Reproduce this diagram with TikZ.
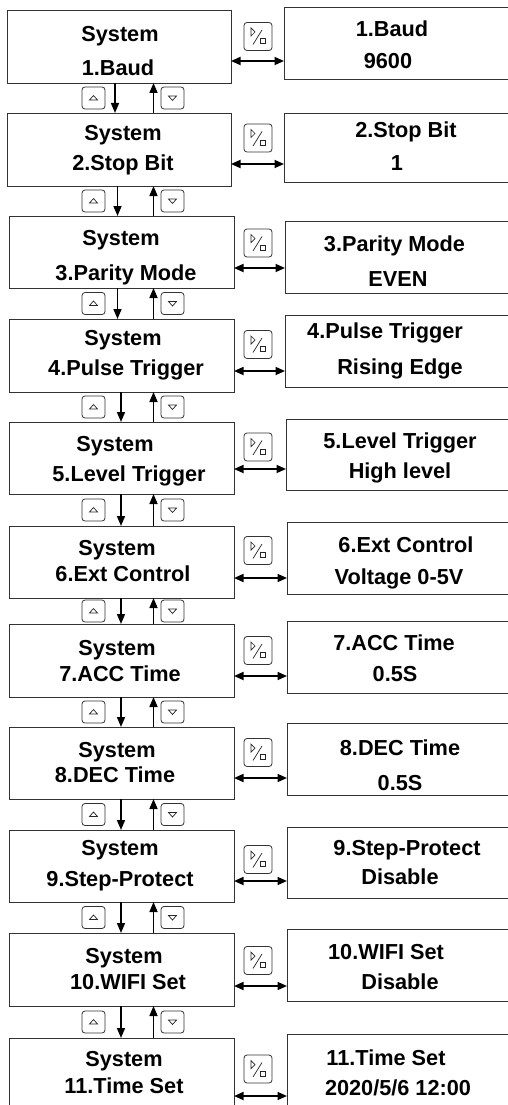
\documentclass[tikz,border=0pt]{standalone}
\usepackage{fontspec}
\setmainfont{Liberation Sans}
\usetikzlibrary{arrows.meta}
\begin{document}
\begin{tikzpicture}[x=1pt,y=-1pt,
  lbox/.style={draw=black!80, line width=0.9pt, anchor=north west, inner sep=0pt, outer sep=0pt},
  rbox/.style={draw=black!80, line width=0.9pt, anchor=north west, inner sep=0pt, outer sep=0pt, minimum width=300},
  txt/.style={anchor=base, inner sep=0pt, font=\fontsize{21.7}{24}\selectfont\bfseries},
  varr/.style={line width=1.6pt, -{Triangle[length=10pt,width=8pt]}},
  dbl/.style={line width=1.7pt, {Triangle[length=9.5pt,width=8pt]}-{Triangle[length=9.5pt,width=8pt]}},
  btnframe/.style={draw=black!80, line width=0.8pt, rounded corners=3pt},
  icon/.style={draw=black!85, line width=0.7pt},
  okbtn/.pic={
    \draw[btnframe] (-14,-14) rectangle (14,14);
    \draw[icon] (-7,-8.5) -- (-3,-4.5) -- (-7,-0.5) -- cycle;
    \draw[icon] (-5,8) -- (4,-6.5);
    \draw[icon] (2,2) rectangle (7,7);
  },
  upbtn/.pic={
    \draw[btnframe] (-11.5,-11) rectangle (11.5,11);
    \draw[icon] (-4,2) -- (4,2) -- (0,-2.5) -- cycle;
  },
  dnbtn/.pic={
    \draw[btnframe] (-11.5,-11) rectangle (11.5,11);
    \draw[icon] (-4,-2) -- (4,-2) -- (0,2.5) -- cycle;
  }
]
\useasboundingbox (0,0) rectangle (508,1105);
\clip (0,0) rectangle (508,1105);
\fill[white] (0,0) rectangle (508,1105);

\coordinate (ux) at (153.5,0);

% ---------- left boxes ----------
\node[lbox, minimum width=224, minimum height=73] (L1) at (7,10) {};
\node[lbox, minimum width=224, minimum height=73] (L2) at (7,113) {};
\node[lbox, minimum width=225, minimum height=72] (L3) at (9,216) {};
\node[lbox, minimum width=225, minimum height=73] (L4) at (9,319) {};
\node[lbox, minimum width=225, minimum height=72] (L5) at (9,422) {};
\node[lbox, minimum width=225, minimum height=72] (L6) at (9,526) {};
\node[lbox, minimum width=225, minimum height=73] (L7) at (9,624) {};
\node[lbox, minimum width=225, minimum height=72] (L8) at (9,727) {};
\node[lbox, minimum width=225, minimum height=72] (L9) at (9,830) {};
\node[lbox, minimum width=225, minimum height=73] (L10) at (9,933) {};
\node[lbox, minimum width=225, minimum height=73] (L11) at (9,1038) {};

% ---------- right boxes ----------
\node[rbox, minimum height=72] (R1) at (284,7) {};
\node[rbox, minimum height=69] (R2) at (284,113) {};
\node[rbox, minimum height=72] (R3) at (285,221) {};
\node[rbox, minimum height=72] (R4) at (285,315) {};
\node[rbox, minimum height=71] (R5) at (286,419) {};
\node[rbox, minimum height=72] (R6) at (287,522) {};
\node[rbox, minimum height=72] (R7) at (287,621) {};
\node[rbox, minimum height=72] (R8) at (287,723) {};
\node[rbox, minimum height=71] (R9) at (287,827) {};
\node[rbox, minimum height=72] (R10) at (287,929) {};
\node[rbox, minimum height=72] (R11) at (287,1034) {};

% ---------- left texts ----------
\node[txt] (L1a) at (120,42) {System};   \node[txt] (L1b) at (118,76) {1.Baud};
\node[txt] (L2a) at (123,140.5) {System}; \node[txt] (L2b) at (123,170.5) {2.Stop Bit};
\node[txt] (L3a) at (121,245.5) {System}; \node[txt] (L3b) at (126,280) {3.Parity Mode};
\node[txt] (L4a) at (123,345.5) {System}; \node[txt] (L4b) at (126,375.5) {4.Pulse Trigger};
\node[txt] (L5a) at (115,451.5) {System}; \node[txt] (L5b) at (129,481.5) {5.Level Trigger};
\node[txt] (L6a) at (117,555.5) {System}; \node[txt] (L6b) at (123,581) {6.Ext Control};
\node[txt] (L7a) at (117,655.5) {System}; \node[txt] (L7b) at (120,681.5) {7.ACC Time};
\node[txt] (L8a) at (117,757.3) {System}; \node[txt] (L8b) at (115,782.3) {8.DEC Time};
\node[txt] (L9a) at (120,855) {System};   \node[txt] (L9b) at (120,886) {9.Step-Protect};
\node[txt] (L10a) at (124,963.3) {System}; \node[txt] (L10b) at (128,989) {10.WIFI Set};
\node[txt] (L11a) at (124,1066.7) {System}; \node[txt] (L11b) at (124,1093.3) {11.Time Set};

% ---------- right texts ----------
\node[txt] (R1a) at (392,36.7) {1.Baud};          \node[txt] (R1b) at (388,68.3) {9600};
\node[txt] (R2a) at (406,137.3) {2.Stop Bit};     \node[txt] (R2b) at (397,170) {1};
\node[txt] (R3a) at (394.5,251.7) {3.Parity Mode}; \node[txt] (R3b) at (398,286.7) {EVEN};
\node[txt] (R4a) at (385,338) {4.Pulse Trigger};  \node[txt] (R4b) at (400,374) {Rising Edge};
\node[txt] (R5a) at (400,448.3) {5.Level Trigger}; \node[txt] (R5b) at (400,478.3) {High level};
\node[txt] (R6a) at (406,552.7) {6.Ext Control};  \node[txt] (R6b) at (399,584) {Voltage 0-5V};
\node[txt] (R7a) at (394,650.7) {7.ACC Time};     \node[txt] (R7b) at (395,681.7) {0.5S};
\node[txt] (R8a) at (400,755.7) {8.DEC Time};     \node[txt] (R8b) at (400,790) {0.5S};
\node[txt] (R9a) at (407,855.7) {9.Step-Protect}; \node[txt] (R9b) at (400,884) {Disable};
\node[txt] (R10a) at (386,959.3) {10.WIFI Set};   \node[txt] (R10b) at (400,989) {Disable};
\node[txt] (R11a) at (386,1065) {11.Time Set};    \node[txt] (R11b) at (398,1095) {2020/5/6 12:00};

% ---------- horizontal double arrows and OK buttons ----------
\foreach \i/\ay/\by in {1/61/36.5, 2/164/138, 3/268/243, 4/371/344.5, 5/469/447, 6/578/550.5, 7/676/650.5, 8/778/752.5, 9/881/859.5, 10/986/960.5, 11/1096/1069}{
  \coordinate (a\i) at (0,\ay);
  \draw[dbl] (L\i.east |- a\i) -- (R\i.west |- a\i);
  \pic at (258,\by) {okbtn};
}

% ---------- vertical arrows and up/down buttons ----------
\foreach \i/\j/\dx/\by in {1/2/115/98, 2/3/117.5/201, 3/4/117.5/303.5, 4/5/121/407, 5/6/121/510, 6/7/121/611, 7/8/121/712, 8/9/121/814.5, 9/10/121/917.5, 10/11/121/1022}{
  \coordinate (d\i) at (\dx,0);
  \draw[varr] (L\i.south -| d\i) -- (L\j.north -| d\i);
  \draw[varr] (L\j.north -| ux) -- (L\i.south -| ux);
  \pic at (93.5,\by) {upbtn};
  \pic at (172.5,\by) {dnbtn};
}
\end{tikzpicture}
\end{document}
